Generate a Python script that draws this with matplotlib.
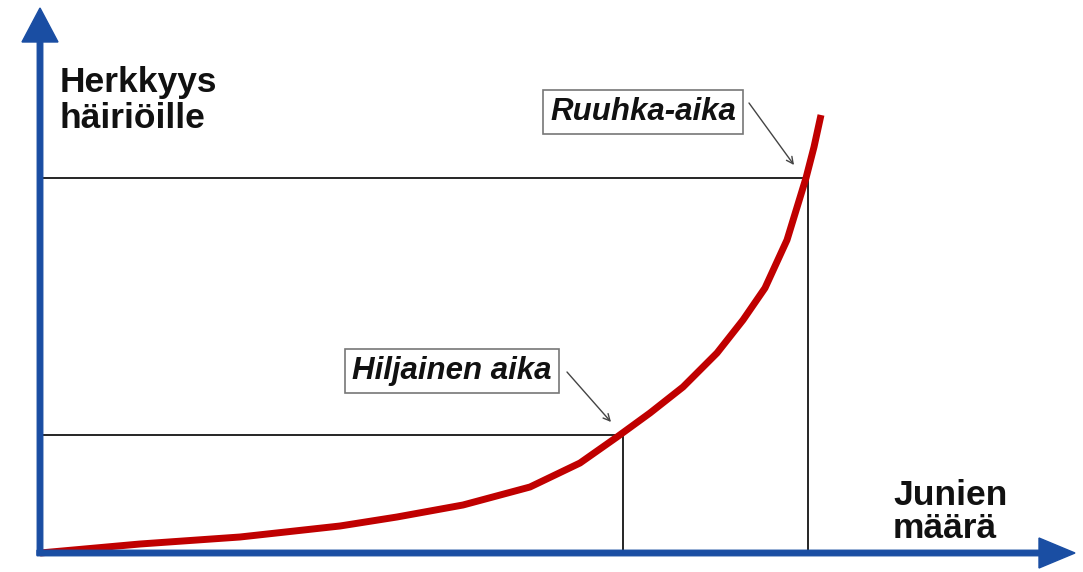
import matplotlib.pyplot as plt

# ------------------------------------------------------
# Data (arbitrary units, origin at the axis corner)
# ------------------------------------------------------
junien_maara = [0, 100, 200, 300, 357, 423, 490, 540, 577, 610, 643, 677,
                703, 725, 747, 766, 774, 781]
herkkyys = [0, 9, 16, 27, 36, 48, 66, 90, 116, 140, 166, 200,
            233, 265, 313, 375, 406, 438]

# operating points on the curve
hiljainen = (583, 118)
ruuhka = (768, 375)

labels = ["Hiljainen aika", "Ruuhka-aika"]
label_pos = [(412, 182), (603, 441)]
arrow_start = [(527, 181), (709, 450)]
arrow_end = [(571, 131), (754, 388)]

BLUE = "#1a4ea3"
RED = "#c00000"

plt.rcParams['font.family'] = ['Liberation Sans', 'DejaVu Sans']

fig = plt.figure(figsize=(10.83, 5.72), dpi=100)
ax = fig.add_axes([0, 0, 1, 1])
ax.set_xlim(-40, 1043)
ax.set_ylim(-19, 553)
ax.axis("off")

# guide lines to the operating points
for px, py in (hiljainen, ruuhka):
    ax.plot([0, px, px], [py, py, 0], color="black", lw=1.2, zorder=2)

# sensitivity curve
ax.plot(junien_maara, herkkyys, color=RED, lw=5, solid_capstyle="butt",
        solid_joinstyle="round", zorder=3)

# axes with arrowheads
ax.arrow(0, -2, 0, 547, width=5.5, head_width=36, head_length=34,
         length_includes_head=True, color=BLUE, zorder=4)
ax.arrow(-3, 0, 1038, 0, width=5.5, head_width=30, head_length=36,
         length_includes_head=True, color=BLUE, zorder=4)

ax.text(20, 425, "Herkkyys\nhäiriöille", fontsize=25.5, fontweight="bold",
        ha="left", va="baseline", linespacing=1.1, color="#111111")
ax.text(853, 15, "Junien\nmäärä", fontsize=25.5, fontweight="bold",
        ha="left", va="baseline", linespacing=1.0, color="#111111")

for lab, (tx, ty), (sx, sy), (ex, ey) in zip(labels, label_pos, arrow_start, arrow_end):
    ax.text(tx, ty, lab, fontsize=22.5, fontweight="bold", fontstyle="italic",
            ha="center", va="center", color="#111111", zorder=5,
            bbox=dict(boxstyle="square,pad=0.22", fc="white", ec="#777777", lw=1.2))
    ax.annotate("", xy=(ex, ey), xytext=(sx, sy),
                arrowprops=dict(arrowstyle="->", color="#444444", lw=1.0,
                                shrinkA=0, shrinkB=0, mutation_scale=12))

fig.savefig("out.png", dpi=100)
